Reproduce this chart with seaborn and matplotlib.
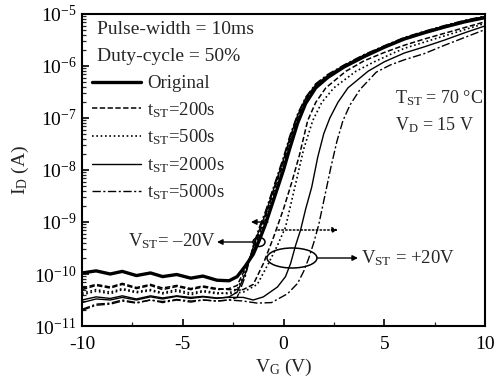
import matplotlib
matplotlib.use("Agg")
import matplotlib.pyplot as plt
import numpy as np
import pandas as pd
import seaborn as sns
from matplotlib.lines import Line2D
from matplotlib.patches import Ellipse

# ---------------- data ----------------
# gate voltage grid for the off-current floor
v_floor = [-10, -9.3, -8.6, -8, -7.3, -6.6, -6, -5.3, -4.6, -4, -3.3, -2.7]
# gate voltage grid for the rising part (original and V_ST=-20V curves)
v_rise = [-2.3, -1.9, -1.5, -1.2, -0.9, -0.6, -0.3, 0.0, 0.3, 0.7, 1.1, 1.6,
          2.2, 3.0, 4.0, 5.0, 6.0, 7.0, 8.0, 9.0, 10.0]

# log10(I_D) values
orig_floor = [-9.98, -9.94, -10.0, -9.95, -10.03, -9.98, -10.05, -10.01, -10.08, -10.04, -10.12, -10.13]
orig_rise = [-10.05, -9.85, -9.62, -9.35, -9.05, -8.7, -8.35, -8.0, -7.6, -7.1, -6.72, -6.42,
             -6.22, -6.02, -5.82, -5.64, -5.48, -5.36, -5.25, -5.15, -5.07]

# V_ST = -20 V group
m200_floor = [-10.3, -10.22, -10.27, -10.2, -10.28, -10.22, -10.3, -10.24, -10.3, -10.25, -10.3, -10.28]
m200_rise = [-10.22, -9.9, -9.52, -9.22, -8.9, -8.55, -8.2, -7.85, -7.45, -6.99, -6.65, -6.38,
             -6.2, -6.0, -5.8, -5.63, -5.47, -5.35, -5.24, -5.14, -5.06]
m500_floor = [-10.4, -10.33, -10.38, -10.3, -10.36, -10.32, -10.38, -10.33, -10.4, -10.34, -10.38, -10.36]
m500_rise = [-10.3, -9.95, -9.55, -9.25, -8.95, -8.6, -8.25, -7.9, -7.5, -7.03, -6.68, -6.4,
             -6.21, -6.01, -5.81, -5.63, -5.47, -5.35, -5.24, -5.14, -5.06]
m2000_floor = [-10.55, -10.48, -10.5, -10.45, -10.5, -10.44, -10.48, -10.43, -10.47, -10.44, -10.47, -10.44]
m2000_rise = [-10.35, -10.0, -9.48, -9.15, -8.85, -8.5, -8.14, -7.8, -7.4, -6.95, -6.62, -6.36,
              -6.18, -5.99, -5.79, -5.62, -5.46, -5.34, -5.23, -5.13, -5.05]
m5000_floor = [-10.7, -10.6, -10.58, -10.52, -10.56, -10.5, -10.55, -10.5, -10.54, -10.5, -10.52, -10.5]
m5000_rise = [-10.45, -10.05, -9.45, -9.1, -8.8, -8.45, -8.1, -7.75, -7.36, -6.92, -6.6, -6.34,
              -6.16, -5.98, -5.78, -5.61, -5.45, -5.33, -5.22, -5.12, -5.04]

# V_ST = +20 V group (own voltage points for the rising part)
p200_floor = [-10.27, -10.2, -10.25, -10.18, -10.26, -10.2, -10.27, -10.22, -10.28, -10.23, -10.28, -10.3]
p200_v = [-2.0, -1.5, -1.0, -0.5, 0.0, 0.4, 0.8, 1.2, 1.6, 2.1, 3.1, 4.0, 5.0, 6.0, 7.0, 8.0, 9.0, 10.0]
p200_i = [-10.3, -10.2, -9.8, -9.3, -8.75, -8.25, -7.7, -7.05, -6.7, -6.42, -6.1, -5.9, -5.74,
          -5.6, -5.48, -5.37, -5.26, -5.15]

p500_floor = [-10.37, -10.3, -10.35, -10.28, -10.34, -10.3, -10.36, -10.3, -10.37, -10.32, -10.36, -10.38]
p500_v = [-2.0, -1.3, -0.75, -0.3, 0.1, 0.4, 0.7, 1.0, 1.45, 1.9, 2.5, 3.6, 4.5, 5.4, 6.0, 7.0,
          8.0, 9.0, 10.0]
p500_i = [-10.35, -10.2, -9.8, -9.45, -9.1, -8.6, -8.1, -7.6, -7.05, -6.7, -6.42, -6.1, -5.92,
          -5.76, -5.66, -5.54, -5.42, -5.3, -5.18]

p2000_floor = [-10.5, -10.44, -10.47, -10.42, -10.48, -10.42, -10.46, -10.42, -10.45, -10.43, -10.46, -10.45]
p2000_v = [-2.0, -1.5, -1.0, -0.3, 0.1, 0.35, 0.6, 0.85, 1.1, 1.4, 1.7, 2.0, 2.3, 2.7, 3.2, 4.2,
           5.0, 6.0, 7.0, 8.0, 9.0, 10.0]
p2000_i = [-10.45, -10.5, -10.44, -10.25, -10.05, -9.8, -9.45, -9.15, -8.75, -8.33, -7.75, -7.3,
           -7.0, -6.7, -6.42, -6.1, -5.92, -5.75, -5.63, -5.5, -5.36, -5.23]

p5000_floor = [-10.68, -10.58, -10.56, -10.5, -10.55, -10.5, -10.53, -10.49, -10.52, -10.5, -10.52, -10.5]
p5000_v = [-2.0, -1.3, -0.6, 0.2, 0.7, 1.0, 1.25, 1.5, 1.75, 2.05, 2.35, 2.65, 2.95, 3.3, 3.8,
           4.6, 5.3, 6.0, 7.0, 8.0, 9.0, 10.0]
p5000_i = [-10.52, -10.56, -10.55, -10.38, -10.18, -9.95, -9.7, -9.4, -9.05, -8.5, -7.95, -7.45,
           -7.05, -6.75, -6.45, -6.12, -5.98, -5.88, -5.76, -5.6, -5.45, -5.3]

legend_labels = ["Original", r"t$_\mathregular{ST}$=200s", r"t$_\mathregular{ST}$=500s",
                 r"t$_\mathregular{ST}$=2000s", r"t$_\mathregular{ST}$=5000s"]
x_ticks = [-10, -5, 0, 5, 10]
y_exps = [-11, -10, -9, -8, -7, -6, -5]

# ---------------- styles ----------------
sty = {
    "orig": dict(lw=2.4, dashes=None),
    "200": dict(lw=1.1, dashes=(3.5, 1.6)),
    "500": dict(lw=1.2, dashes=(1.0, 1.6)),
    "2000": dict(lw=1.0, dashes=None),
    "5000": dict(lw=1.0, dashes=(6, 1.8, 1.5, 1.8)),
}

sns.set_style("ticks")
plt.rcParams["font.family"] = ["Liberation Serif", "DejaVu Serif"]
plt.rcParams["mathtext.fontset"] = "custom"
plt.rcParams["mathtext.rm"] = "Liberation Serif"
plt.rcParams["mathtext.it"] = "Liberation Serif:italic"
plt.rcParams["axes.linewidth"] = 1.5

fig = plt.figure(figsize=(4.96, 3.85), dpi=100)
ax = fig.add_axes([82 / 496, 1 - 326 / 385, 403 / 496, 312 / 385])

curves = [
    ("orig", v_floor + v_rise, orig_floor + orig_rise),
    ("200", v_floor + v_rise, m200_floor + m200_rise),
    ("500", v_floor + v_rise, m500_floor + m500_rise),
    ("2000", v_floor + v_rise, m2000_floor + m2000_rise),
    ("5000", v_floor + v_rise, m5000_floor + m5000_rise),
    ("200", v_floor + p200_v, p200_floor + p200_i),
    ("500", v_floor + p500_v, p500_floor + p500_i),
    ("2000", v_floor + p2000_v, p2000_floor + p2000_i),
    ("5000", v_floor + p5000_v, p5000_floor + p5000_i),
]

for key, vv, ll in curves:
    df = pd.DataFrame({"V": vv, "I": 10.0 ** np.array(ll)})
    s = sty[key]
    sns.lineplot(data=df, x="V", y="I", sort=False, estimator=None, ax=ax,
                 color="black", lw=s["lw"])
    ln = ax.lines[-1]
    if s["dashes"] is not None:
        ln.set_dashes(s["dashes"])

ax.set_yscale("log")
ax.set_xlim(-10, 10)
ax.set_ylim(1e-11, 1e-5)
ax.set_xticks(x_ticks)
ax.set_xticklabels([str(t) for t in x_ticks], fontsize=14)
ax.set_xticks([-7.5, -2.5, 2.5, 7.5], minor=True)
ax.set_yticks([10.0 ** e for e in y_exps])
ax.set_yticklabels([r"10$^{\mathregular{%d}}$" % e for e in y_exps], fontsize=14)
ax.yaxis.set_minor_locator(matplotlib.ticker.LogLocator(base=10, subs=np.arange(2, 10)))
ax.yaxis.set_minor_formatter(matplotlib.ticker.NullFormatter())
ax.tick_params(axis="x", which="major", direction="in", length=5, width=1.2, pad=7,
               colors="black")
ax.tick_params(axis="y", which="major", direction="in", length=5, width=1.2, pad=4,
               colors="black")
ax.tick_params(axis="both", which="minor", direction="in", length=3, width=0.9)
for sp in ax.spines.values():
    sp.set_visible(True)
    sp.set_color("black")

ax.set_xlabel(r"V$_\mathregular{G}$ (V)", fontsize=14, labelpad=3)
ax.set_ylabel(r"I$_\mathregular{D}$ (A)", fontsize=14, labelpad=2)

def fx(px):
    return (px - 82) / 403

def fy(py):
    return (326 - py) / 312

ax.text(fx(97), fy(30), "Pulse-width = 10ms", transform=ax.transAxes, fontsize=14,
        va="center", ha="left")
ax.text(fx(97), fy(57), "Duty-cycle = 50%", transform=ax.transAxes, fontsize=14,
        va="center", ha="left")

handles = []
for key in ["orig", "200", "500", "2000", "5000"]:
    s = sty[key]
    h = Line2D([0], [0], color="black", lw=s["lw"])
    if s["dashes"] is not None:
        h.set_dashes(s["dashes"])
    handles.append(h)
ax.legend(handles, legend_labels, loc="upper left", bbox_to_anchor=(fx(92), fy(75)),
          frameon=False, fontsize=13.5, handlelength=2.6, handletextpad=0.35,
          labelspacing=0.42, borderaxespad=0, borderpad=0)

ax.text(fx(395), fy(98), r"T$_\mathregular{ST}$ = 70 °C", transform=ax.transAxes,
        fontsize=13, va="center", ha="left")
ax.text(fx(395), fy(125), r"V$_\mathregular{D}$ = 15 V", transform=ax.transAxes,
        fontsize=13, va="center", ha="left")

ax.text(fx(216), fy(241), r"V$_\mathregular{ST}$= –20V", transform=ax.transAxes,
        fontsize=13.5, va="center", ha="right")
ax.text(fx(361), fy(258), r"V$_\mathregular{ST}$ = +20V", transform=ax.transAxes,
        fontsize=13.5, va="center", ha="left")

ax.add_patch(Ellipse((fx(259), fy(242)), 12 / 403, 9 / 312, transform=ax.transAxes,
                     fill=False, lw=1.1, color="black"))
ax.add_patch(Ellipse((fx(292), fy(258)), 50 / 403, 20 / 312, transform=ax.transAxes,
                     fill=False, lw=1.1, color="black"))

ap = dict(arrowstyle="-|>", lw=1.0, color="black", mutation_scale=8, shrinkA=0, shrinkB=0)
ax.annotate("", xy=(fx(217), fy(242)), xytext=(fx(253), fy(242)),
            xycoords="axes fraction", textcoords="axes fraction", arrowprops=ap)
ax.annotate("", xy=(fx(358), fy(258)), xytext=(fx(317), fy(258)),
            xycoords="axes fraction", textcoords="axes fraction", arrowprops=ap)
ax.annotate("", xy=(fx(251), fy(222)), xytext=(fx(268), fy(222)),
            xycoords="axes fraction", textcoords="axes fraction", arrowprops=ap)
ap2 = dict(arrowstyle="-|>", lw=1.1, color="black", mutation_scale=8, shrinkA=0, shrinkB=0,
           linestyle=(0, (1, 1.5)))
ax.annotate("", xy=(fx(338), fy(230)), xytext=(fx(278), fy(230)),
            xycoords="axes fraction", textcoords="axes fraction", arrowprops=ap2)

fig.savefig("out.png", dpi=100, facecolor="white")
